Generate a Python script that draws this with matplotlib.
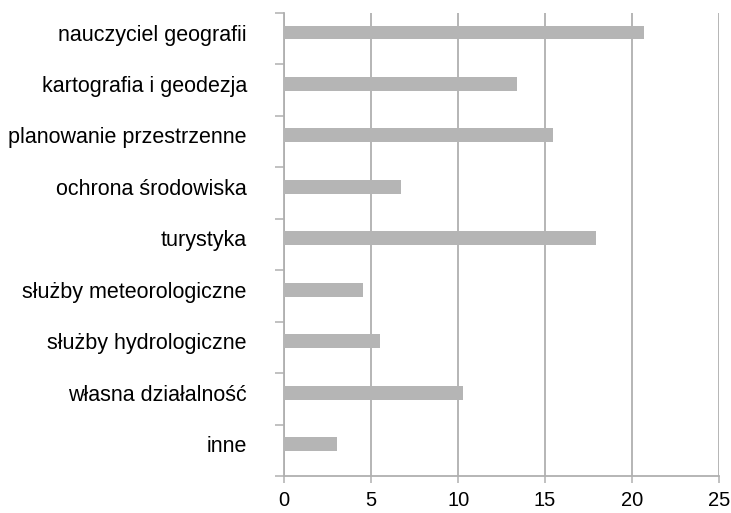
import matplotlib.pyplot as plt
import numpy as np

plt.rcParams['font.family'] = ['Liberation Sans', 'DejaVu Sans']

categories = ['nauczyciel geografii', 'kartografia i geodezja', 'planowanie przestrzenne',
              'ochrona środowiska', 'turystyka', 'służby meteorologiczne',
              'służby hydrologiczne', 'własna działalność', 'inne']
values = [20.7, 13.4, 15.45, 6.7, 17.9, 4.5, 5.5, 10.3, 3.05]
x_ticks = [0, 5, 10, 15, 20, 25]

grey = '#b0b0b0'
bar_grey = '#b5b5b5'

fig = plt.figure(figsize=(7.31, 5.13), dpi=100)
ax = fig.add_axes([284.3 / 731, 1 - 476 / 513, (719 - 284.3) / 731, (476 - 13) / 513])

pos = np.arange(len(categories))
ax.barh(pos - 0.12, values, height=0.27, color=bar_grey, zorder=3)

ax.set_xlim(0, 25)
ax.set_ylim(len(categories) - 0.5, -0.5)

ax.set_xticks(x_ticks)
ax.set_xticklabels([str(t) for t in x_ticks], fontsize=14.5)
ax.set_yticks(pos - 0.12)
ax.set_yticklabels(categories, fontsize=15.5)
ax.set_yticks(np.arange(len(categories) + 1) - 0.5, minor=True)

ax.tick_params(axis='y', which='major', length=0, pad=27)
ax.tick_params(axis='y', which='minor', length=6.5, width=1.1, color=grey)
ax.tick_params(axis='x', length=5, width=1.1, color=grey, pad=6)

ax.grid(axis='x', color=grey, linewidth=1.3, zorder=0)
for s in ['top', 'right']:
    ax.spines[s].set_visible(False)
for s in ['left', 'bottom']:
    ax.spines[s].set_color(grey)
    ax.spines[s].set_linewidth(1.3)

fig.savefig('out.png', dpi=100)
